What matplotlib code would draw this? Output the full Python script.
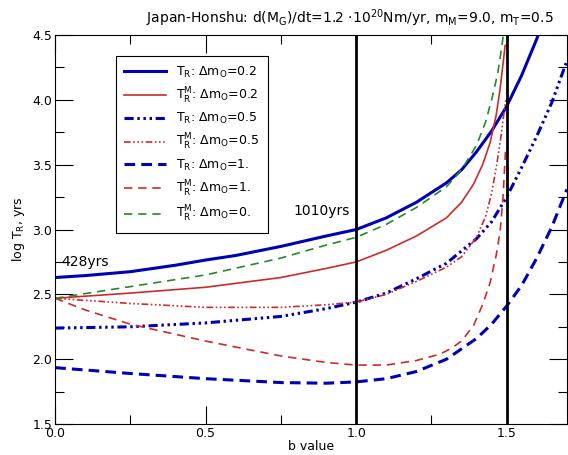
#!/usr/bin/env python3
# -*- coding: utf-8 -*-
import matplotlib
matplotlib.use("Agg")
import matplotlib.pyplot as plt
from matplotlib.ticker import MultipleLocator

plt.rcParams['mathtext.default'] = 'regular'

# values: b value vs log T_R
b_tr02  = [0.0, 0.1, 0.25, 0.4, 0.5, 0.6, 0.75, 0.9, 1.0, 1.1, 1.2, 1.3, 1.35, 1.4, 1.45, 1.5, 1.55, 1.6, 1.62]
tr02    = [2.63, 2.645, 2.675, 2.725, 2.765, 2.80, 2.87, 2.95, 3.00, 3.09, 3.21, 3.36, 3.46, 3.60, 3.76, 3.95, 4.19, 4.47, 4.6]

b_trm02 = [0.0, 0.25, 0.5, 0.75, 0.9, 1.0, 1.1, 1.2, 1.3, 1.35, 1.39, 1.42, 1.445, 1.465, 1.478, 1.488, 1.495]
trm02   = [2.47, 2.51, 2.555, 2.63, 2.70, 2.75, 2.84, 2.95, 3.09, 3.21, 3.35, 3.50, 3.67, 3.88, 4.08, 4.28, 4.42]

b_tr05  = [0.0, 0.25, 0.5, 0.75, 0.9, 1.0, 1.1, 1.2, 1.3, 1.4, 1.45, 1.5, 1.55, 1.6, 1.65, 1.7]
tr05    = [2.24, 2.25, 2.28, 2.33, 2.39, 2.44, 2.51, 2.62, 2.74, 2.93, 3.06, 3.25, 3.48, 3.72, 3.98, 4.30]

b_trm05 = [0.0, 0.25, 0.5, 0.75, 0.9, 1.0, 1.1, 1.2, 1.3, 1.35, 1.4, 1.43, 1.45, 1.467, 1.48, 1.49, 1.497]
trm05   = [2.47, 2.43, 2.40, 2.40, 2.42, 2.44, 2.50, 2.60, 2.71, 2.79, 2.94, 3.10, 3.28, 3.50, 3.70, 3.88, 4.00]

b_tr1   = [0.0, 0.25, 0.5, 0.75, 0.9, 1.0, 1.1, 1.2, 1.3, 1.4, 1.45, 1.5, 1.55, 1.6, 1.65, 1.7]
tr1     = [1.935, 1.89, 1.85, 1.82, 1.815, 1.825, 1.85, 1.905, 2.00, 2.16, 2.27, 2.41, 2.57, 2.78, 3.02, 3.31]

b_trm1  = [0.0, 0.1, 0.25, 0.5, 0.75, 0.9, 1.0, 1.1, 1.2, 1.28, 1.32, 1.35, 1.39, 1.42, 1.445, 1.465, 1.478, 1.488, 1.496]
trm1    = [2.47, 2.38, 2.27, 2.14, 2.025, 1.975, 1.955, 1.955, 1.99, 2.04, 2.09, 2.14, 2.26, 2.42, 2.59, 2.80, 2.98, 3.25, 3.60]

b_trm0  = [0.0, 0.25, 0.5, 0.75, 0.9, 1.0, 1.1, 1.2, 1.3, 1.35, 1.4, 1.43, 1.45, 1.47, 1.482, 1.492]
trm0    = [2.47, 2.56, 2.65, 2.78, 2.88, 2.94, 3.04, 3.17, 3.33, 3.46, 3.65, 3.83, 4.00, 4.20, 4.38, 4.55]

blue = '#0000b4'
red = '#cc2b2b'
green = '#228b22'

fig = plt.figure(figsize=(5.68, 4.55), dpi=100)
ax = fig.add_axes([0.097, 0.068, 0.901, 0.855])

ax.plot(b_tr02, tr02, color=blue, lw=2.2, label=r'$T_R$: $\Delta m_O$=0.2')
ax.plot(b_trm02, trm02, color=red, lw=1.2, label=r'$T_R^M$: $\Delta m_O$=0.2')
ax.plot(b_tr05, tr05, color=blue, lw=2.2, dashes=(3, 1.2, 0.8, 1.2, 0.8, 1.2, 0.8, 1.2),
        label=r'$T_R$: $\Delta m_O$=0.5')
ax.plot(b_trm05, trm05, color=red, lw=1.2, dashes=(4, 1.5, 1, 1.5, 1, 1.5, 1, 1.5),
        label=r'$T_R^M$: $\Delta m_O$=0.5')
ax.plot(b_tr1, tr1, color=blue, lw=2.2, dashes=(3.5, 2), label=r'$T_R$: $\Delta m_O$=1.')
ax.plot(b_trm1, trm1, color=red, lw=1.2, dashes=(5, 3.5), label=r'$T_R^M$: $\Delta m_O$=1.')
ax.plot(b_trm0, trm0, color=green, lw=1.2, dashes=(5, 3.5), label=r'$T_R^M$: $\Delta m_O$=0.')

ax.axvline(1.0, color='black', lw=2)
ax.axvline(1.5, color='black', lw=2)

ax.text(0.02, 2.75, '428yrs', fontsize=10, va='center', ha='left')
ax.text(0.98, 3.14, '1010yrs', fontsize=10, va='center', ha='right')

ax.set_xlim(0, 1.7)
ax.set_ylim(1.5, 4.5)
ax.xaxis.set_major_locator(MultipleLocator(0.5))
ax.xaxis.set_minor_locator(MultipleLocator(0.25))
ax.yaxis.set_major_locator(MultipleLocator(0.5))
ax.yaxis.set_minor_locator(MultipleLocator(0.25))
ax.tick_params(which='both', direction='in', top=True, right=True, labelsize=9)
ax.tick_params(which='major', length=13, width=0.8, pad=2)
ax.tick_params(which='minor', length=6.5, width=0.8)

ax.set_xlabel('b value', fontsize=9, labelpad=0)
ax.set_ylabel(r'log T$_R$, yrs', fontsize=9)
ax.set_title(r'Japan-Honshu: d(M$_G$)/dt=1.2 $\cdot$10$^{20}$Nm/yr, m$_M$=9.0, m$_T$=0.5',
             fontsize=10, pad=9, x=0.575)

leg = ax.legend(loc='upper left', bbox_to_anchor=(0.106, 0.962), fontsize=9,
                handlelength=3.3, fancybox=False, edgecolor='black',
                framealpha=1, borderpad=0.7, labelspacing=0.45)
leg.get_frame().set_linewidth(0.8)

fig.savefig('out.png', dpi=100)
